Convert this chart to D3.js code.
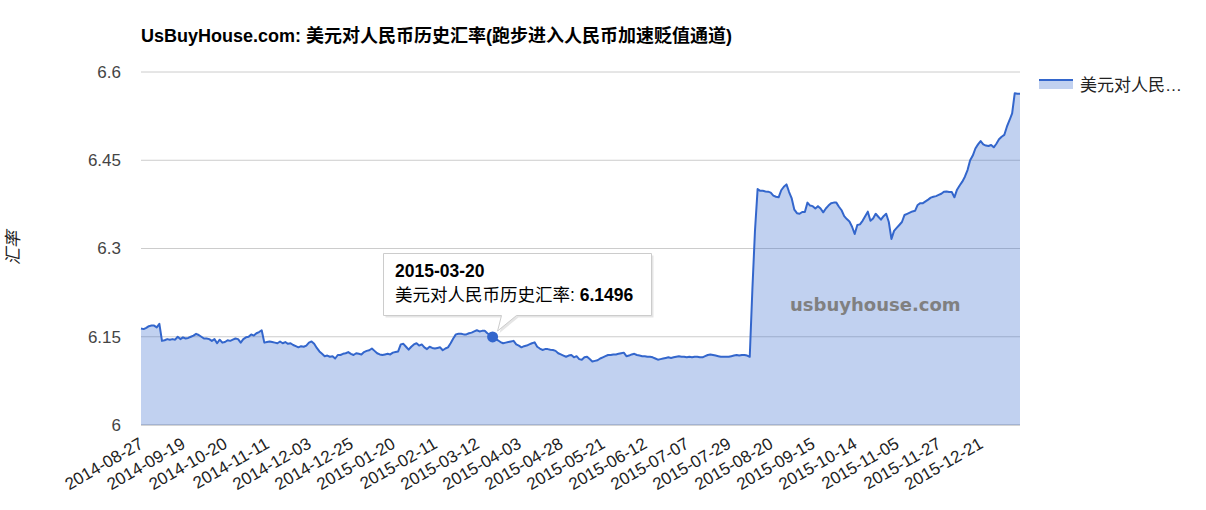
<!DOCTYPE html>
<html lang="zh">
  <head>
    <meta charset="utf-8">
    <title>美元对人民币历史汇率</title>
    <script src="https://cdnjs.cloudflare.com/ajax/libs/d3/7.8.5/d3.min.js"></script>
    <style>
      body { margin: 0; background: #fff; }
      text { font-family: "Liberation Sans", Arial, "Noto Sans CJK SC", sans-serif; }
      .axisX path, .axisX line, .axisY path, .axisY line { display: none; }
    </style>
  </head>
  <body>
    <div id="chartDiv"></div>
    <script>
      // trading days, one list of days per month
      var months = [
        ["2014-08", [27,28,29]],
        ["2014-09", [1,2,3,4,5,9,10,11,12,15,16,17,18,19,22,23,24,25,26,29,30]],
        ["2014-10", [8,9,10,13,14,15,16,17,20,21,22,23,24,27,28,29,30,31]],
        ["2014-11", [3,4,5,6,7,10,11,12,13,14,17,18,19,20,21,24,25,26,27,28]],
        ["2014-12", [1,2,3,4,5,8,9,10,11,12,15,16,17,18,19,22,23,24,25,26,29,30,31]],
        ["2015-01", [5,6,7,8,9,12,13,14,15,16,19,20,21,22,23,26,27,28,29,30]],
        ["2015-02", [2,3,4,5,6,9,10,11,12,13,16,17,25,26,27]],
        ["2015-03", [2,3,4,5,6,9,10,11,12,13,16,17,18,19,20,23,24,25,26,27,30,31]],
        ["2015-04", [1,2,3,7,8,9,10,13,14,15,16,17,20,21,22,23,24,27,28,29,30]],
        ["2015-05", [4,5,6,7,8,11,12,13,14,15,18,19,20,21,22,25,26,27,28,29]],
        ["2015-06", [1,2,3,4,5,8,9,10,11,12,15,16,17,18,19,23,24,25,26,29,30]],
        ["2015-07", [1,2,3,6,7,8,9,10,13,14,15,16,17,20,21,22,23,24,27,28,29,30,31]],
        ["2015-08", [3,4,5,6,7,10,11,12,13,14,17,18,19,20,21,24,25,26,27,28,31]],
        ["2015-09", [1,2,7,8,9,10,11,14,15,16,17,18,21,22,23,24,25,28,29,30]],
        ["2015-10", [8,9,12,13,14,15,16,19,20,21,22,23,26,27,28,29,30]],
        ["2015-11", [2,3,4,5,6,9,10,11,12,13,16,17,18,19,20,23,24,25,26,27,30]],
        ["2015-12", [1,2,3,4,7,8,9,10,11,14,15,16,17,18,21,22,23,24,25,28,29,30,31]],
        ["2016-01", [4,5,6,7,8,11,12]]
      ];

      // USD/CNY, one value per trading day
      var rates = [
        6.164, 6.163, 6.165,
        6.168, 6.169, 6.169, 6.166, 6.172, 6.143, 6.144, 6.146, 6.145, 6.146, 6.145, 6.150, 6.146, 6.149, 6.147, 6.148, 6.150, 6.152, 6.155, 6.153, 6.150,
        6.147, 6.147, 6.146, 6.143, 6.146, 6.139, 6.145, 6.140, 6.141, 6.144, 6.143, 6.145, 6.147, 6.146, 6.140, 6.146, 6.149, 6.150,
        6.154, 6.152, 6.156, 6.158, 6.161, 6.140, 6.141, 6.142, 6.141, 6.140, 6.139, 6.142, 6.139, 6.141, 6.138, 6.139, 6.136, 6.134, 6.132, 6.134,
        6.133, 6.135, 6.140, 6.142, 6.138, 6.131, 6.125, 6.121, 6.117, 6.118, 6.116, 6.117, 6.113, 6.119, 6.119, 6.121, 6.122, 6.124, 6.121, 6.119, 6.122, 6.121, 6.120,
        6.124, 6.126, 6.127, 6.130, 6.126, 6.122, 6.120, 6.119, 6.120, 6.121, 6.120, 6.123, 6.124, 6.125, 6.137, 6.138, 6.133, 6.128, 6.133, 6.137,
        6.139, 6.135, 6.137, 6.132, 6.129, 6.133, 6.131, 6.130, 6.131, 6.132, 6.127, 6.130, 6.132, 6.139, 6.147,
        6.154, 6.155, 6.155, 6.154, 6.154, 6.156, 6.157, 6.159, 6.161, 6.159, 6.160, 6.160, 6.156, 6.153, 6.1496, 6.146, 6.144, 6.141, 6.139, 6.140, 6.141, 6.142,
        6.143, 6.137, 6.135, 6.132, 6.134, 6.135, 6.137, 6.139, 6.1405, 6.133, 6.130, 6.1275, 6.129, 6.129, 6.128, 6.1275, 6.126, 6.122, 6.120, 6.118, 6.116,
        6.118, 6.119, 6.115, 6.117, 6.112, 6.111, 6.115, 6.116, 6.112, 6.108, 6.109, 6.110, 6.113, 6.115, 6.117, 6.119, 6.119, 6.120, 6.120, 6.121,
        6.122, 6.123, 6.117, 6.118, 6.120, 6.121, 6.119, 6.118, 6.117, 6.117, 6.116, 6.116, 6.115, 6.113, 6.111, 6.112, 6.113, 6.114, 6.115, 6.114, 6.115,
        6.116, 6.117, 6.116, 6.116, 6.115, 6.116, 6.115, 6.116, 6.116, 6.115, 6.115, 6.117, 6.119, 6.120, 6.119, 6.118, 6.117, 6.116, 6.116, 6.116, 6.116, 6.117, 6.118,
        6.119, 6.118, 6.119, 6.119, 6.118, 6.116, 6.2298, 6.3306, 6.401, 6.398, 6.398, 6.397, 6.3966, 6.395, 6.390, 6.388, 6.387, 6.399, 6.405, 6.409, 6.396,
        6.385, 6.366, 6.360, 6.359, 6.362, 6.362, 6.378, 6.373, 6.372, 6.368, 6.372, 6.368, 6.3615, 6.368, 6.373, 6.377, 6.378, 6.378, 6.371, 6.365,
        6.355, 6.350, 6.346, 6.337, 6.3246, 6.340, 6.341, 6.347, 6.355, 6.3626, 6.347, 6.351, 6.359, 6.354, 6.349, 6.355, 6.359,
        6.345, 6.3162, 6.330, 6.335, 6.340, 6.345, 6.357, 6.359, 6.361, 6.363, 6.364, 6.374, 6.377, 6.377, 6.380, 6.383, 6.3864, 6.388, 6.389, 6.391, 6.393,
        6.3966, 6.397, 6.396, 6.396, 6.387, 6.400, 6.407, 6.4136, 6.422, 6.4334, 6.45, 6.458, 6.470, 6.477, 6.4827, 6.477, 6.475, 6.4742, 6.476, 6.472, 6.478, 6.4856, 6.490,
        6.493, 6.507, 6.518, 6.5298, 6.564, 6.563, 6.563
      ];

      var tickDates = ["2014-08-27","2014-09-19","2014-10-20","2014-11-11","2014-12-03","2014-12-25",
                       "2015-01-20","2015-02-11","2015-03-12","2015-04-03","2015-04-28","2015-05-21",
                       "2015-06-12","2015-07-07","2015-07-29","2015-08-20","2015-09-15","2015-10-14",
                       "2015-11-05","2015-11-27","2015-12-21"];
      var yTicks = [6, 6.15, 6.3, 6.45, 6.6];

      var seriesName = "美元对人民币历史汇率";
      var focusDate = "2015-03-20";

      var dates = [];
      months.forEach(function(m) {
        m[1].forEach(function(d) { dates.push(m[0] + "-" + (d < 10 ? "0" + d : d)); });
      });
      var data = dates.map(function(d, i) { return {date: d, value: rates[i]}; });

      var chartWd = 1206, chartHt = 510;
      var plotLeft = 141, plotRight = 1020, plotTop = 72, plotBottom = 425;
      var blue = "#3366cc";

      var svg = d3.select("#chartDiv").append("svg")
          .attr("width", chartWd)
          .attr("height", chartHt);

      var xScale = d3.scalePoint().domain(dates).range([plotLeft, plotRight]);
      var yScale = d3.scaleLinear().domain([6, 6.6]).range([plotBottom, plotTop]);

      // gridlines
      svg.selectAll("line.grid")
         .data(yTicks)
         .enter()
         .append("line")
         .attr("class", "grid")
         .attr("x1", plotLeft).attr("x2", plotRight)
         .attr("y1", function(d) { return yScale(d); })
         .attr("y2", function(d) { return yScale(d); })
         .attr("stroke", function(d) { return d == 6 ? "#aaa" : "#ccc"; })
         .attr("stroke-width", 1);

      var area = d3.area()
          .x(function(d) { return xScale(d.date); })
          .y0(plotBottom)
          .y1(function(d) { return yScale(d.value); });
      var line = d3.line()
          .x(function(d) { return xScale(d.date); })
          .y(function(d) { return yScale(d.value); });

      svg.append("path")
         .datum(data)
         .attr("d", area)
         .attr("fill", blue)
         .attr("fill-opacity", 0.3);

      svg.append("path")
         .datum(data)
         .attr("d", line)
         .attr("fill", "none")
         .attr("stroke", blue)
         .attr("stroke-width", 2)
         .attr("stroke-linejoin", "round");

      // watermark
      svg.append("text")
         .attr("x", 790).attr("y", 311)
         .style("font-family", "'DejaVu Sans', Verdana, sans-serif")
         .attr("font-weight", "bold")
         .style("font-size", "18px")
         .attr("fill", "#808080")
         .text("usbuyhouse.com");

      // y axis
      var yAxis = d3.axisLeft(yScale).tickValues(yTicks).tickSize(0)
          .tickFormat(function(d) { return String(d); });
      svg.append("g")
         .attr("class", "axisY")
         .attr("transform", "translate(121,0)")
         .call(yAxis)
         .selectAll("text")
         .attr("x", 0)
         .attr("fill", "#444")
         .style("font-size", "17px");

      // x axis, rotated labels
      var xAxis = d3.axisBottom(xScale).tickValues(tickDates).tickSize(0);
      svg.append("g")
         .attr("class", "axisX")
         .attr("transform", "translate(0," + plotBottom + ")")
         .call(xAxis)
         .selectAll("text")
         .attr("text-anchor", "end")
         .attr("y", 0).attr("dy", 0)
         .attr("transform", "translate(3,22) rotate(-30)")
         .attr("fill", "#222")
         .style("font-size", "17px");

      // axis title
      svg.append("text")
         .attr("transform", "translate(19,248) rotate(-90)")
         .attr("text-anchor", "middle")
         .attr("font-style", "italic")
         .style("font-size", "17px")
         .attr("fill", "#222")
         .text("汇率");

      // title
      svg.append("text")
         .attr("x", plotLeft).attr("y", 42)
         .attr("font-weight", "bold")
         .style("font-size", "18px")
         .attr("fill", "#000")
         .text("UsBuyHouse.com: 美元对人民币历史汇率(跑步进入人民币加速贬值通道)");

      // legend
      svg.append("rect")
         .attr("x", 1039).attr("y", 79).attr("width", 34).attr("height", 10)
         .attr("fill", blue).attr("fill-opacity", 0.3);
      svg.append("line")
         .attr("x1", 1039).attr("x2", 1073).attr("y1", 80).attr("y2", 80)
         .attr("stroke", blue).attr("stroke-width", 2);
      svg.append("text")
         .attr("x", 1080).attr("y", 91)
         .style("font-size", "17px")
         .attr("fill", "#222")
         .text(seriesName.slice(0, 5) + "…");

      // tooltip on the focused point
      var fp = data.filter(function(d) { return d.date == focusDate; })[0];
      var fx = xScale(fp.date), fy = yScale(fp.value);

      var tip = "M383.5,253.5 H651.5 V315.5 H516.5 L" + (fx + 5) + "," + (fy - 6) + " L501.5,315.5 H383.5 Z";
      svg.append("path")
         .attr("d", tip)
         .attr("transform", "translate(2,2)")
         .attr("fill", "#000").attr("fill-opacity", 0.1);
      svg.append("path")
         .attr("d", tip)
         .attr("fill", "#fff")
         .attr("stroke", "#ccc");

      svg.append("circle")
         .attr("cx", fx).attr("cy", fy).attr("r", 5.5)
         .attr("fill", blue);

      svg.append("text")
         .attr("x", 395).attr("y", 277)
         .attr("font-weight", "bold")
         .style("font-size", "17.5px")
         .attr("fill", "#000")
         .text(fp.date);
      var t2 = svg.append("text")
         .attr("x", 395).attr("y", 301)
         .style("font-size", "17.5px")
         .attr("fill", "#000");
      t2.append("tspan").text(seriesName + ": ");
      t2.append("tspan").attr("font-weight", "bold").text(fp.value.toFixed(4));
    </script>
  </body>
</html>
